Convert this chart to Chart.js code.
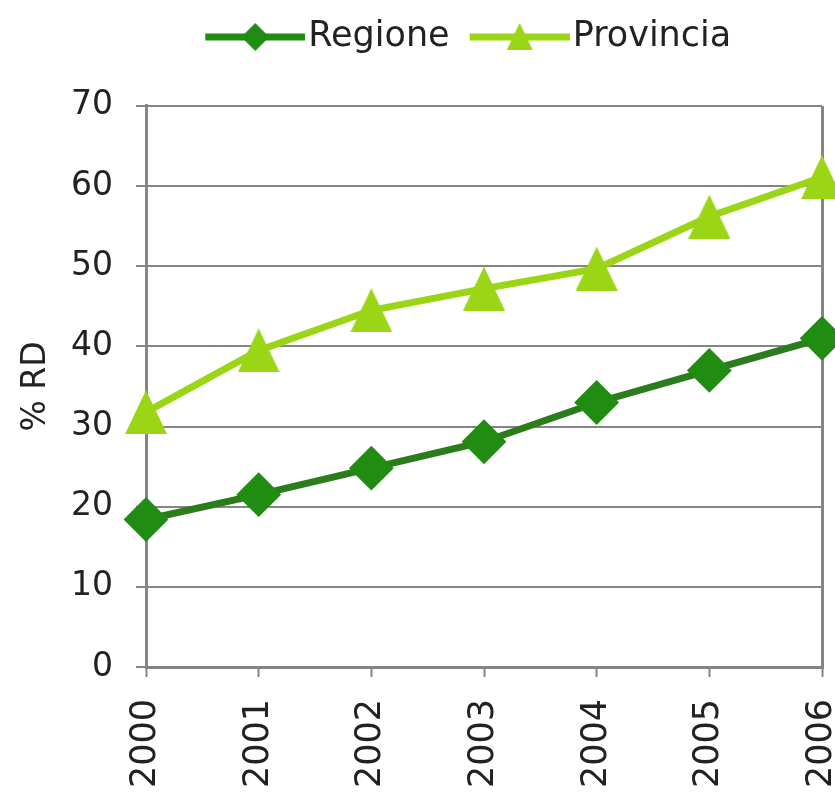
<!DOCTYPE html>
<html>
<head>
<meta charset="utf-8">
<script src="https://cdn.jsdelivr.net/npm/chart.js@4.4.1/dist/chart.umd.min.js"></script>
<style>
  html, body { margin: 0; padding: 0; background: #fff; overflow: hidden; }
  #wrap { width: 886px; height: 797px; }
</style>
</head>
<body>
<div id="wrap"><canvas id="rdChart"></canvas></div>
<script>
// data
const years = ["2000", "2001", "2002", "2003", "2004", "2005", "2006"];
const regione = [18.4, 21.5, 24.8, 28.1, 33.0, 37.0, 41.0];
const provincia = [31.8, 39.5, 44.5, 47.2, 49.7, 56.2, 61.1];
const seriesNames = ["Regione", "Provincia"];
const yMin = 0, yMax = 70, yStep = 10;

const darkGreen = "#218c12";
const darkLine = "#2b7d1b";
const lightGreen = "#9ad615";
const gridGrey = "#858585";

// isosceles triangle marker, centred on its bounding box like the original
function triangleMarker(w, h, color) {
    const c = document.createElement("canvas");
    c.width = w; c.height = h;
    const g = c.getContext("2d");
    g.fillStyle = color;
    g.beginPath();
    g.moveTo(w / 2, 0);
    g.lineTo(w, h);
    g.lineTo(0, h);
    g.closePath();
    g.fill();
    return c;
}

// legend sample: thick line with the marker in its middle
function legendSample(kind, color) {
    const w = 115, h = 34, from = 15;
    const c = document.createElement("canvas");
    c.width = w; c.height = h;
    const g = c.getContext("2d");
    g.strokeStyle = color;
    g.lineWidth = 7;
    g.beginPath();
    g.moveTo(from, h / 2);
    g.lineTo(w, h / 2);
    g.stroke();
    const cx = (from + w) / 2, cy = h / 2;
    g.fillStyle = color;
    g.beginPath();
    if (kind === "diamond") {
        g.moveTo(cx, cy - 14);
        g.lineTo(cx + 14, cy);
        g.lineTo(cx, cy + 14);
        g.lineTo(cx - 14, cy);
    } else {
        g.moveTo(cx, cy - 14);
        g.lineTo(cx + 13, cy + 13);
        g.lineTo(cx - 13, cy + 13);
    }
    g.closePath();
    g.fill();
    return c;
}

const triMarker = triangleMarker(42, 44, lightGreen);
const legendSamples = [legendSample("diamond", darkGreen), legendSample("triangle", lightGreen)];

// nudge the legend a little to the left, like in the original
const legendShift = {
    id: "legendShift",
    afterLayout(chart) {
        if (chart.legend) {
            chart.legend.left -= 16;
            chart.legend.right -= 16;
        }
    }
};

Chart.defaults.font.family = "'DejaVu Sans', sans-serif";
Chart.defaults.font.size = 33;
Chart.defaults.color = "#222";

const ctx = document.getElementById("rdChart").getContext("2d");
new Chart(ctx, {
    type: "line",
    data: {
        labels: years,
        datasets: [{
            label: seriesNames[0],
            data: regione,
            borderColor: darkLine,
            backgroundColor: darkGreen,
            borderWidth: 7,
            pointStyle: "rectRot",
            pointRadius: 21,
            pointBorderWidth: 2,
            pointBorderColor: darkGreen,
            pointBackgroundColor: darkGreen,
            tension: 0,
            clip: false
        }, {
            label: seriesNames[1],
            data: provincia,
            borderColor: lightGreen,
            backgroundColor: lightGreen,
            borderWidth: 7,
            pointStyle: triMarker,
            pointRadius: 21,
            tension: 0,
            clip: false
        }]
    },
    plugins: [legendShift],
    options: {
        responsive: true,
        maintainAspectRatio: false,
        animation: false,
        plugins: {
            tooltip: { enabled: false },
            legend: {
                position: "top",
                fullSize: false,
                weight: 1000,
                labels: {
                    usePointStyle: true,
                    pointStyleWidth: 86,
                    padding: 19.5,
                    font: { size: 35 },
                    color: "#222",
                    generateLabels: chart => chart.data.datasets.map((ds, i) => ({
                        text: ds.label,
                        pointStyle: legendSamples[i],
                        fillStyle: "rgba(0,0,0,0)",
                        strokeStyle: "rgba(0,0,0,0)",
                        lineWidth: 0,
                        hidden: false,
                        datasetIndex: i,
                        fontColor: "#222"
                    }))
                }
            },
            // empty title used as a spacer between legend and plot
            title: {
                display: true,
                text: " ",
                weight: 500,
                font: { size: 2 },
                padding: { top: 20, bottom: 19 }
            }
        },
        scales: {
            x: {
                grid: {
                    drawOnChartArea: true,
                    color: c => c.index === years.length - 1 ? gridGrey : "rgba(0,0,0,0)",
                    lineWidth: 3,
                    tickColor: gridGrey,
                    tickWidth: 2,
                    tickLength: 10
                },
                border: { display: true, color: gridGrey, width: 3 },
                ticks: { autoSkip: false, minRotation: 90, maxRotation: 90, padding: 22, font: { size: 35 } },
                afterFit: scale => { scale.height = 130; }
            },
            y: {
                min: yMin,
                max: yMax,
                ticks: { stepSize: yStep, padding: 23 },
                grid: { color: gridGrey, lineWidth: 2, tickLength: 10 },
                border: { display: true, color: gridGrey, width: 3 },
                title: {
                    display: true,
                    text: "% RD",
                    padding: { top: 17, bottom: 0 }
                },
                afterFit: scale => { scale.width = 146; }
            }
        }
    }
});
</script>
</body>
</html>
